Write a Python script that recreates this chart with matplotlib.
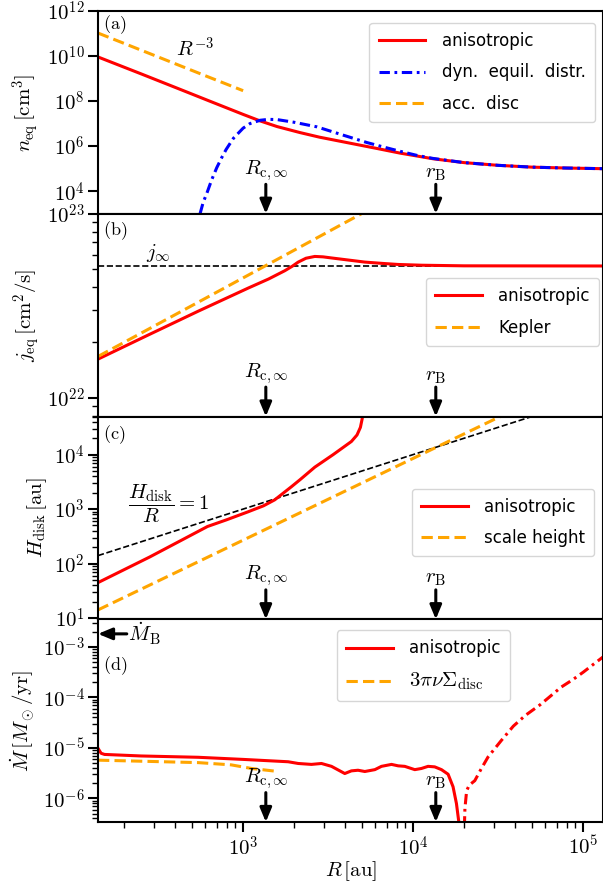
import numpy as np
import matplotlib
matplotlib.use("Agg")
import matplotlib.pyplot as plt
from matplotlib import ticker

plt.rcParams.update({
    "mathtext.fontset": "cm",
    "font.family": ["DejaVu Sans"],
    "axes.linewidth": 1.5,
    "xtick.major.size": 7.5, "xtick.major.width": 1.5,
    "xtick.minor.size": 4.3, "xtick.minor.width": 1.0,
    "ytick.major.size": 7.5, "ytick.major.width": 1.5,
    "ytick.minor.size": 4.3, "ytick.minor.width": 1.0,
    "xtick.major.pad": 2.0, "ytick.major.pad": 2.0,
    "xtick.labelsize": 15, "ytick.labelsize": 15,
    "axes.labelsize": 15,
    "legend.fontsize": 12,
})

# ---- characteristic radii [au] and radial range ----
R_lim = (140, 1.31e5)
R_c_inf = 1360
r_B = 13600

# ---- (a) equilibrium number density [cm^-3] ----
R_n_aniso = [140, 251, 427, 631, 1000, 1259, 1585, 2163, 2818, 4266, 6026,
             8395, 13120, 19950, 31620, 50120, 79430, 131200]
n_aniso = [9.1e9, 1.62e9, 3.3e8, 1.02e8, 2.57e7, 1.32e7, 7.4e6, 4.0e6, 2.5e6,
           1.35e6, 8.1e5, 4.9e5, 2.75e5, 1.86e5, 1.41e5, 1.17e5, 1.07e5, 1.0e5]
R_n_dyn = [550, 558, 582, 611, 653, 700, 750, 794, 877, 1000, 1096, 1259, 1413,
           1585, 1995, 2716, 3981, 5346, 6683, 8395, 10520, 13120, 19950,
           31620, 50120, 79430, 131200]
n_dyn = [1e2, 1e3, 3.2e3, 7.9e3, 3.2e4, 1.12e5, 3.2e5, 7.1e5, 2.24e6, 6.3e6,
         1.0e7, 1.41e7, 1.55e7, 1.51e7, 1.15e7, 7.2e6, 2.9e6, 1.45e6, 9.2e5,
         5.9e5, 3.9e5, 2.85e5, 1.86e5, 1.41e5, 1.17e5, 1.07e5, 1.0e5]
R_n_disc = [140, 300, 600, 1000]
n_disc = [1.05e11, 1.07e10, 1.33e9, 2.9e8]

# ---- (b) specific angular momentum [cm^2/s] ----
j_inf = 5.2e22
R_j_aniso = [140, 276, 543, 1069, 1413, 1758, 1950, 2109, 2344, 2642, 2951,
             3311, 4169, 5200, 6607, 8166, 11220, 19950, 131200]
j_aniso = [1.62e22, 2.19e22, 2.95e22, 3.94e22, 4.42e22, 4.90e22, 5.19e22,
           5.46e22, 5.73e22, 5.86e22, 5.83e22, 5.75e22, 5.60e22, 5.46e22,
           5.37e22, 5.30e22, 5.25e22, 5.21e22, 5.20e22]
R_j_kep = [140, 1000, 10000, 131200]
j_kep = [1.675e22, 4.48e22, 1.42e23, 5.1e23]

# ---- (c) disc thickness [au] ----
R_H_aniso = [140, 282, 617, 794, 1069, 1318, 1535, 1923, 2163, 2642, 3388,
             4335, 4677, 4898, 5012, 5129]
H_aniso = [44.7, 132, 479, 631, 891, 1148, 1479, 2570, 3467, 5888, 1.0e4,
           1.74e4, 2.29e4, 3.16e4, 4.47e4, 7.08e4]
R_H_scale = [140, 1000, 10000, 131200]
H_scale = [14.1, 269, 8512, 4.04e5]
R_H_unity = [140, 131200]

# ---- (d) mass inflow rate [Msun/yr] ----
Mdot_B = 1.8e-3
R_M_in = [140, 146, 153, 251, 543, 1000, 1841, 2109, 2523, 2891, 3311, 3963,
          4335, 4742, 5200, 5957, 6516, 7464, 8166, 8933, 10230, 11190, 12250,
          13400, 14690, 16070, 17180, 17990, 18580, 19050]
M_in = [9.8e-6, 7.8e-6, 7.4e-6, 6.9e-6, 6.5e-6, 5.9e-6, 5.3e-6, 4.9e-6,
        4.7e-6, 4.9e-6, 4.3e-6, 3.1e-6, 3.5e-6, 3.6e-6, 3.4e-6, 3.7e-6,
        4.3e-6, 4.7e-6, 4.4e-6, 4.3e-6, 3.7e-6, 3.9e-6, 4.3e-6, 4.2e-6,
        3.7e-6, 3.0e-6, 1.7e-6, 7.9e-7, 3.4e-7, 1.0e-7]
R_M_out = [19860, 20180, 20650, 21380, 23070, 25120, 27610, 33110, 38900,
           45710, 55850, 63100, 74130, 87100, 100500, 114800, 131200]
M_out = [1e-7, 6.3e-7, 1.41e-6, 1.82e-6, 2.24e-6, 3.8e-6, 6.6e-6, 1.41e-5,
         2.69e-5, 4.37e-5, 7.1e-5, 1.0e-4, 1.58e-4, 2.24e-4, 3.16e-4,
         4.47e-4, 6.3e-4]
R_M_disc = [140, 543, 851, 1122, 1607]
M_disc = [5.7e-6, 5.1e-6, 4.6e-6, 3.9e-6, 3.4e-6]

LW = 2.2
RED, BLUE, ORANGE = "red", "blue", "orange"
DASH = (3.7, 1.7)
DASHDOT = (3.4, 1.5, 0.9, 1.5)
LEG = dict(borderaxespad=0, handlelength=2.8, handletextpad=1.0,
           labelspacing=0.8, borderpad=0.55)

fig, axes = plt.subplots(4, 1, sharex=True, figsize=(6.03, 8.86), dpi=100,
                         gridspec_kw=dict(left=0.1625, right=1.0, top=0.9876,
                                          bottom=0.0722, hspace=0.0))
ax_a, ax_b, ax_c, ax_d = axes


def pow10(v, pos):
    return r"$10^{%d}$" % int(round(np.log10(v)))


def mark_radius(ax, R, label):
    tr = ax.get_xaxis_transform()
    ax.annotate("", xy=(R, 0.0), xycoords=tr, xytext=(R, 0.145), textcoords=tr,
                arrowprops=dict(arrowstyle="-|>,head_length=0.6,head_width=0.25",
                                color="k", lw=2.2, mutation_scale=14,
                                shrinkA=0, shrinkB=0))
    ax.text(R, 0.152, label, transform=tr, ha="center", va="bottom", fontsize=15)


def panel_tag(ax, tag, y):
    ax.text(0.01, y, r"$\mathrm{(%s)}$" % tag, transform=ax.transAxes,
            ha="left", va="center", fontsize=13)


# (a)
ax_a.plot(R_n_aniso, n_aniso, color=RED, lw=LW, label="anisotropic")
ax_a.plot(R_n_dyn, n_dyn, color=BLUE, lw=LW, dashes=DASHDOT,
          label="dyn.  equil.  distr.")
ax_a.plot(R_n_disc, n_disc, color=ORANGE, lw=LW, dashes=DASH, label="acc.  disc")
ax_a.set_yscale("log")
ax_a.set_ylim(1e3, 1e12)
ax_a.yaxis.set_major_locator(ticker.FixedLocator([1e4, 1e6, 1e8, 1e10, 1e12]))
ax_a.yaxis.set_minor_locator(ticker.NullLocator())
ax_a.set_ylabel(r"$n_{\rm eq}\,[{\rm cm}^3]$")
ax_a.text(0.192, 0.813, r"$R^{-3}$", transform=ax_a.transAxes, ha="center",
          va="center", fontsize=15)
ax_a.legend(loc="upper right", bbox_to_anchor=(0.984, 0.941), **LEG)
panel_tag(ax_a, "a", 0.931)

# (b)
ax_b.axhline(j_inf, color="k", lw=1.2, ls="--")
ax_b.plot(R_j_aniso, j_aniso, color=RED, lw=LW, label="anisotropic")
ax_b.plot(R_j_kep, j_kep, color=ORANGE, lw=LW, dashes=DASH, label="Kepler")
ax_b.set_yscale("log")
ax_b.set_ylim(7.9e21, 1e23)
ax_b.yaxis.set_major_locator(ticker.FixedLocator([1e22, 1e23]))
ax_b.yaxis.set_minor_locator(ticker.LogLocator(subs=np.arange(2, 10)))
ax_b.yaxis.set_minor_formatter(ticker.NullFormatter())
ax_b.set_ylabel(r"$j_{\rm eq}\,[{\rm cm}^2/{\rm s}]$")
ax_b.text(0.119, 0.808, r"$j_\infty$", transform=ax_b.transAxes, ha="center",
          va="center", fontsize=15)
ax_b.legend(loc="upper right", bbox_to_anchor=(0.992, 0.683), **LEG)
panel_tag(ax_b, "b", 0.919)

# (c)
ax_c.plot(R_H_unity, R_H_unity, color="k", lw=1.2, ls="--")
ax_c.plot(R_H_aniso, H_aniso, color=RED, lw=LW, label="anisotropic")
ax_c.plot(R_H_scale, H_scale, color=ORANGE, lw=LW, dashes=DASH,
          label="scale height")
ax_c.set_yscale("log")
ax_c.set_ylim(9.5, 5e4)
ax_c.yaxis.set_major_locator(ticker.FixedLocator([1e1, 1e2, 1e3, 1e4]))
ax_c.yaxis.set_minor_locator(ticker.LogLocator(subs=np.arange(2, 10)))
ax_c.yaxis.set_minor_formatter(ticker.NullFormatter())
ax_c.set_ylabel(r"$H_{\rm disk}\,[{\rm au}]$")
ax_c.text(0.139, 0.569, r"$\dfrac{H_{\rm disk}}{R}=1$", transform=ax_c.transAxes,
          ha="center", va="center", fontsize=15)
ax_c.legend(loc="upper right", bbox_to_anchor=(0.983, 0.644), **LEG)
panel_tag(ax_c, "c", 0.913)

# (d)
ax_d.plot(R_M_in, M_in, color=RED, lw=LW, label="anisotropic")
ax_d.plot(R_M_out, M_out, color=RED, lw=LW, dashes=DASHDOT)
ax_d.plot(R_M_disc, M_disc, color=ORANGE, lw=LW, dashes=DASH,
          label=r"$3\pi\nu\Sigma_{\rm disc}$")
ax_d.set_yscale("log")
ax_d.set_ylim(3.4e-7, 3.5e-3)
ax_d.yaxis.set_major_locator(ticker.FixedLocator([1e-6, 1e-5, 1e-4, 1e-3]))
ax_d.yaxis.set_minor_locator(ticker.LogLocator(subs=np.arange(2, 10)))
ax_d.yaxis.set_minor_formatter(ticker.NullFormatter())
ax_d.set_ylabel(r"$\dot{M}\,[M_\odot/{\rm yr}]$")
ax_d.set_xlabel(r"$R\,[{\rm au}]$", labelpad=0)
leg_d = ax_d.legend(loc="upper left", bbox_to_anchor=(0.473, 0.946), **LEG)
leg_d.get_texts()[1].set_fontsize(15)
panel_tag(ax_d, "d", 0.771)
ytr = ax_d.get_yaxis_transform()
ax_d.annotate("", xy=(0.0, Mdot_B), xycoords=ytr, xytext=(0.057, Mdot_B),
              textcoords=ytr,
              arrowprops=dict(arrowstyle="-|>,head_length=0.6,head_width=0.25",
                              color="k", lw=2.2, mutation_scale=14,
                              shrinkA=0, shrinkB=0))
ax_d.text(0.06, Mdot_B, r"$\dot{M}_{\rm B}$", transform=ytr, ha="left",
          va="center", fontsize=15)

for ax in axes:
    ax.set_xscale("log")
    ax.yaxis.set_major_formatter(ticker.FuncFormatter(pow10))
    mark_radius(ax, R_c_inf, r"$R_{\rm c,\infty}$")
    mark_radius(ax, r_B, r"$r_{\rm B}$")

ax_d.set_xlim(*R_lim)
ax_d.xaxis.set_major_locator(ticker.FixedLocator([1e3, 1e4, 1e5]))
ax_d.xaxis.set_minor_locator(ticker.LogLocator(subs=np.arange(2, 10)))
ax_d.xaxis.set_minor_formatter(ticker.NullFormatter())
ax_d.xaxis.set_major_formatter(ticker.FuncFormatter(pow10))

fig.savefig("out.png", dpi=100)
